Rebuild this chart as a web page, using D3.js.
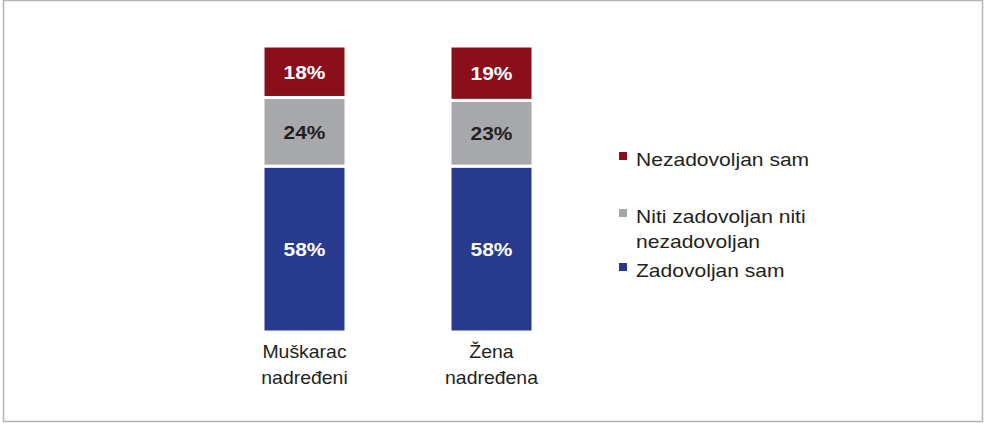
<!DOCTYPE html>
<html lang="hr">
<head>
    <meta charset="UTF-8">
    <title>Zadovoljstvo nadređenim</title>
    <script src="https://d3js.org/d3.v7.min.js"></script>
    <style>
        html, body { margin: 0; padding: 0; background: #fff; }
        svg { display: block; font-family: "Liberation Sans", Arial, sans-serif; }
    </style>
    <script>
        const CATEGORIES = [["Muškarac", "nadređeni"], ["Žena", "nadređena"]];
        const SERIES = ["Zadovoljan sam", "Niti zadovoljan niti nezadovoljan", "Nezadovoljan sam"];
        const ZADOVOLJAN = [58, 58];
        const NITI = [24, 23];
        const NEZADOVOLJAN = [18, 19];
        const COLORS = ["#283a8e", "#a7a8ab", "#8b0f1b"];
        const LABEL_COLORS = ["#ffffff", "#231f20", "#ffffff"];
        const LEGEND_LINES = [["Nezadovoljan sam"], ["Niti zadovoljan niti", "nezadovoljan"], ["Zadovoljan sam"]];

        document.addEventListener("DOMContentLoaded", () => makeGraph());

        function makeGraph() {
            const width = 984, height = 423;
            const svg = d3.select("svg").attr("width", width).attr("height", height);

            svg.append("rect")
                .attr("x", 3.5).attr("y", 0.5)
                .attr("width", 979).attr("height", 421)
                .attr("fill", "none").attr("stroke", "#b3b3b3").attr("stroke-width", 1.5);

            const keys = CATEGORIES.map(c => c.join(" "));
            const rows = keys.map((k, i) => ({
                cat: k,
                s0: ZADOVOLJAN[i], s1: NITI[i], s2: NEZADOVOLJAN[i]
            }));
            const stack = d3.stack().keys(["s0", "s1", "s2"])(rows);

            const x = d3.scalePoint().domain(keys).range([304.5, 491.5]);
            const barW = 83;
            const y = d3.scaleLinear().domain([0, 100]).range([332, 46]);

            const layers = svg.append("g").selectAll("g")
                .data(stack).join("g")
                .attr("fill", (d, i) => COLORS[i]);

            layers.selectAll("rect")
                .data(d => d).join("rect")
                .attr("x", d => x(d.data.cat) - barW / 2)
                .attr("width", barW)
                .attr("y", d => y(d[1]))
                .attr("height", d => y(d[0]) - y(d[1]))
                .attr("stroke", "#fff")
                .attr("stroke-width", 3);

            stack.forEach((layer, i) => {
                svg.append("g").selectAll("text")
                    .data(layer).join("text")
                    .attr("transform", d => `translate(${x(d.data.cat)},${(y(d[0]) + y(d[1])) / 2 + 7}) scale(1.1,1)`)
                    .attr("text-anchor", "middle")
                    .attr("font-size", 19)
                    .attr("font-weight", "bold")
                    .attr("fill", LABEL_COLORS[i])
                    .text(d => (d[1] - d[0]) + "%");
            });

            // category labels under the bars
            const cats = svg.append("g").selectAll("text")
                .data(CATEGORIES).join("text")
                .attr("transform", (d, i) => `translate(${x(keys[i])},358) scale(1.08,1)`)
                .attr("text-anchor", "middle")
                .attr("font-size", 18)
                .attr("fill", "#231f20");
            cats.selectAll("tspan")
                .data(d => d).join("tspan")
                .attr("x", 0)
                .attr("dy", (d, i) => i === 0 ? 0 : 26)
                .text(d => d);

            // legend
            const legendY = [152, 209, 263];
            const legend = svg.append("g").selectAll("g")
                .data(LEGEND_LINES).join("g")
                .attr("transform", (d, i) => `translate(619,${legendY[i]})`);
            legend.append("rect")
                .attr("width", 8).attr("height", 8)
                .attr("fill", (d, i) => COLORS[2 - i]);
            const lt = legend.append("text")
                .attr("transform", "translate(17,14) scale(1.17,1)")
                .attr("font-size", 18)
                .attr("fill", "#231f20");
            lt.selectAll("tspan")
                .data(d => d).join("tspan")
                .attr("x", 0)
                .attr("dy", (d, i) => i === 0 ? 0 : 25)
                .text(d => d);
        }
    </script>
</head>
<body>
    <svg id="graph"></svg>
</body>
</html>
